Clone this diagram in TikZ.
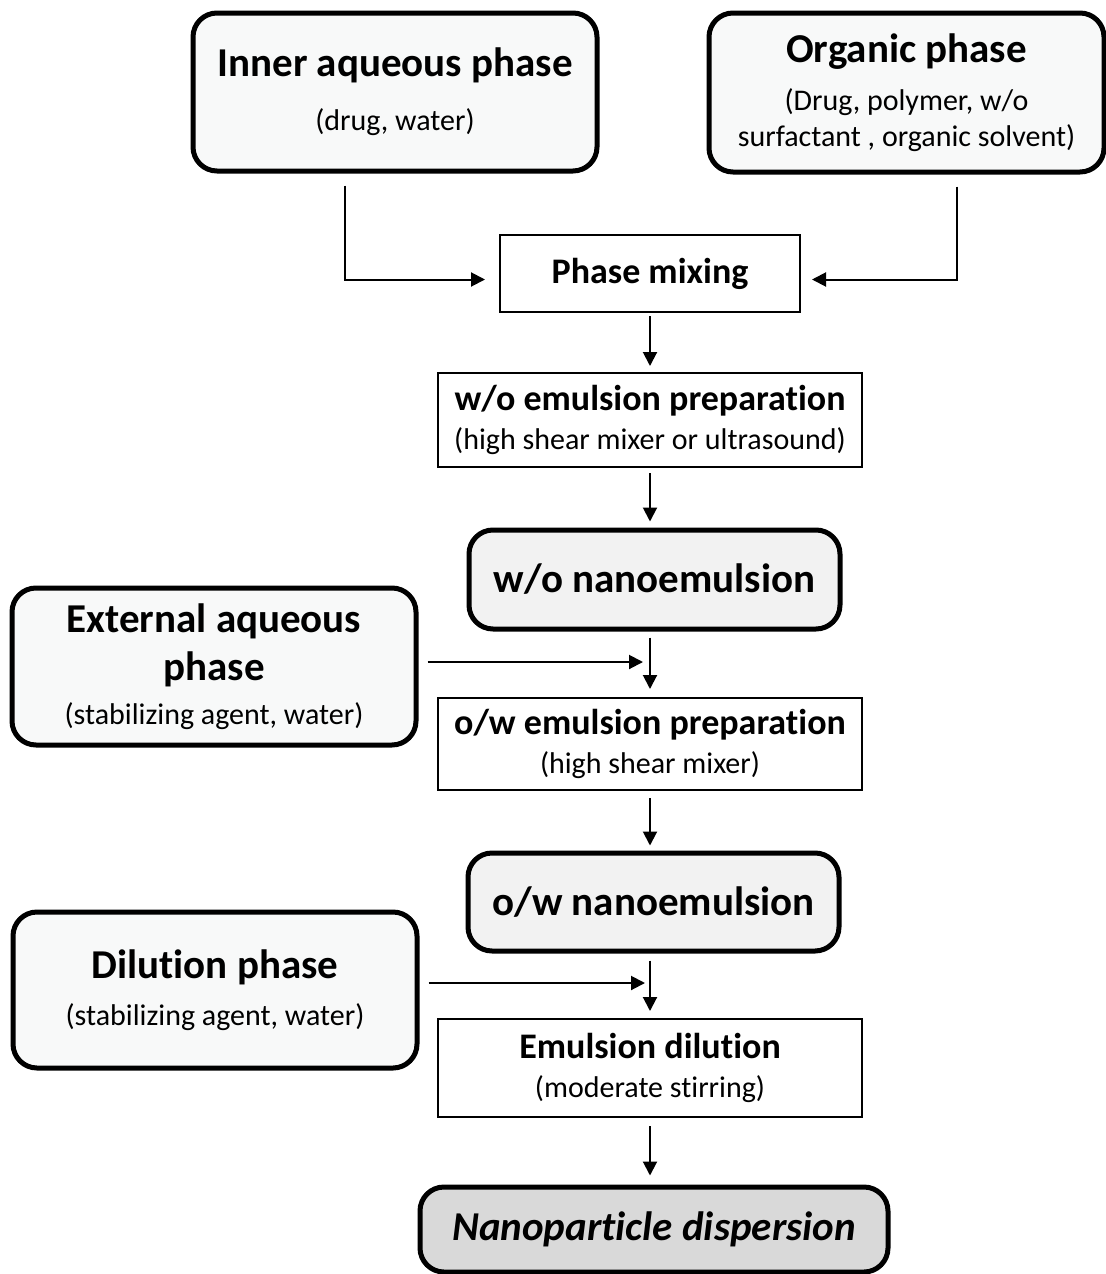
\documentclass[tikz,border=0pt]{standalone}
\usepackage{fontspec}
\setmainfont{Carlito}[Ligatures=NoCommon]
\usetikzlibrary{arrows.meta}

\definecolor{phasefill}{HTML}{F8F9F9}
\definecolor{nanofill}{HTML}{F2F2F2}
\definecolor{finalfill}{HTML}{D9D9D9}

\newcommand{\nodefont}{\fontsize{15}{18}\selectfont\lineskiplimit=-30pt\relax}
\newcommand{\phasetitle}{\fontsize{20.5}{18}\selectfont\bfseries}
\newcommand{\steptitle}{\fontsize{18}{18}\selectfont\bfseries}
\newcommand{\notetext}{\fontsize{15}{18}\selectfont\mdseries}

\begin{document}
\begin{tikzpicture}[x=0.5pt,y=-0.5pt,
	every node/.style={font=\nodefont},
	phasebox/.style={draw, line width=2.5pt, rounded corners=12pt, fill=phasefill, align=center, inner sep=0pt},
	nanobox/.style={phasebox, fill=nanofill},
	stepbox/.style={draw, line width=1pt, fill=white, align=center, inner sep=0pt},
	arr/.style={line width=1pt, -{Triangle[length=7pt,width=7pt]}}]
	\useasboundingbox (0,0) rectangle (1106,1274);

	% input phases
	\node[phasebox, minimum width=202pt, minimum height=79pt] (inner) at (395,92) {\phasetitle Inner aqueous phase\\[9pt]\notetext (drug, water)};
	\node[phasebox, minimum width=197.5pt, minimum height=79.5pt] (org) at (906.5,92.5) {\phasetitle Organic phase\\[6pt]\notetext (Drug, polymer, w/o\\\notetext surfactant , organic solvent)};
	\node[phasebox, minimum width=202pt, minimum height=78.5pt] (ext) at (214,666.5) {\phasetitle External aqueous\\[6pt]\phasetitle phase\\[4pt]\notetext (stabilizing agent, water)};
	\node[phasebox, minimum width=202pt, minimum height=78pt] (dilph) at (215,990) {\phasetitle Dilution phase\\[5.5pt]\notetext (stabilizing agent, water)};

	% process steps
	\node[stepbox, minimum width=150pt, minimum height=38.5pt] (mix) at (650,273.5) {\steptitle Phase mixing};
	\node[stepbox, minimum width=212pt, minimum height=47pt] (wop) at (650,420) {\steptitle w/o emulsion preparation\\[1.5pt]\notetext (high shear mixer or ultrasound)};
	\node[nanobox, minimum width=185.5pt, minimum height=49.5pt] (won) at (654.5,579.5) {\phasetitle w/o nanoemulsion};
	\node[stepbox, minimum width=212pt, minimum height=46pt] (owp) at (650,744) {\steptitle o/w emulsion preparation\\[1.5pt]\notetext (high shear mixer)};
	\node[nanobox, minimum width=185.5pt, minimum height=49pt] (own) at (653.5,902) {\phasetitle o/w nanoemulsion};
	\node[stepbox, minimum width=212pt, minimum height=49pt] (emdil) at (650,1068) {\steptitle Emulsion dilution\\[1.5pt]\notetext (moderate stirring)};
	\node[nanobox, fill=finalfill, minimum width=234pt, minimum height=42.5pt] (final) at (654,1229.5) {\phasetitle\itshape Nanoparticle dispersion};

	\coordinate (extin) at (643,662);
	\coordinate (dilin) at (645,983);

	% connectors
	\draw[arr, shorten <=6pt, shorten >=7pt] ([xshift=-25pt]inner.south) |- ([yshift=-3pt]mix.west);
	\draw[arr, shorten <=6pt, shorten >=5.5pt] ([xshift=25pt]org.south) |- ([yshift=-3pt]mix.east);
	\draw[arr, shorten <=1.5pt, shorten >=3pt] (mix.south) -- (mix.south |- wop.north);
	\draw[arr, shorten <=2.5pt, shorten >=3pt] (wop.south) -- (wop.south |- won.north);
	\draw[arr, shorten <=4.5pt] (ext.east |- extin) -- (extin);
	\draw[arr, shorten <=3pt, shorten >=4pt] (owp.north |- won.south) -- (owp.north);
	\draw[arr, shorten <=3.5pt, shorten >=2.5pt] (owp.south) -- (owp.south |- own.north);
	\draw[arr, shorten <=4.5pt] (dilph.east |- dilin) -- (dilin);
	\draw[arr, shorten <=3.5pt, shorten >=3.5pt] (emdil.north |- own.south) -- (emdil.north);
	\draw[arr, shorten <=4pt, shorten >=4.5pt] (emdil.south) -- (emdil.south |- final.north);
\end{tikzpicture}
\end{document}
